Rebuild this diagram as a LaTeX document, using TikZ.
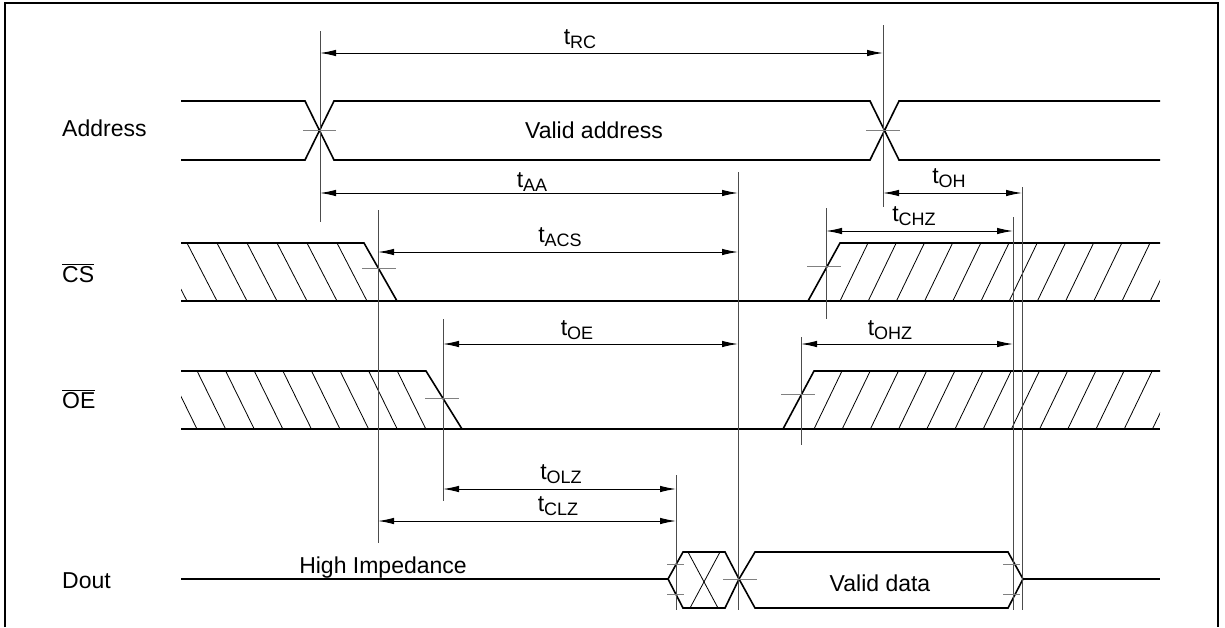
\documentclass[tikz,border=0pt]{standalone}
\usepackage{fontspec}
\setmainfont{Liberation Sans}
\usetikzlibrary{arrows.meta}
\newcommand\tsub[1]{t\raisebox{-4pt}{\fontsize{18}{18}\selectfont #1}}
\tikzset{
  sig/.style={line width=1.6pt,line join=miter},
  refl/.style={line width=1pt,black!70},
  tickl/.style={line width=1pt,black!50},
  dim/.style={line width=1pt,{Latex[length=16pt,width=6.5pt]}-{Latex[length=16pt,width=6.5pt]}},
  hatchl/.style={line width=0.8pt},
  lbl/.style={font=\fontsize{23}{27}\selectfont,inner sep=0pt},
  tlbl/.style={font=\fontsize{23}{27}\selectfont,inner sep=0pt,anchor=south},
}
\begin{document}
\begin{tikzpicture}[x=1pt,y=-1pt]
\useasboundingbox (0,0) rectangle (1225,627);
\draw[line width=1.5pt] (5,627) -- (5,3) -- (1218,3) -- (1218,627);

% signal names
\node[lbl,anchor=base west] (addr) at (62,136) {Address};
\node[lbl,anchor=base west] (cs) at (62,282) {$\overline{\mbox{CS}}$};
\node[lbl,anchor=base west] (oe) at (62,408) {$\overline{\mbox{OE}}$};
\node[lbl,anchor=base west] (dout) at (62,588) {Dout};

% address
\draw[sig] (181,101) -- (305,101) -- (334,160) -- (870,160) -- (899,101) -- (1160,101);
\draw[sig] (181,160) -- (305,160) -- (334,101) -- (870,101) -- (899,160) -- (1160,160);
\node[lbl] (vaddr) at (594,130) {Valid address};

% CS
\draw[sig] (181,243) -- (364,243) -- (397,301) -- (808,301) -- (840,243) -- (1160,243);
\draw[sig] (181,301) -- (1160,301);
\begin{scope}
\clip (181,243) -- (364,243) -- (397,301) -- (181,301) -- cycle;
\foreach \x in {157,187,...,367} \draw[hatchl] (\x,243) -- ++(30,58);
\end{scope}
\begin{scope}
\clip (840,243) -- (1160,243) -- (1160,301) -- (808,301) -- cycle;
\foreach \i in {0,...,11} \draw[hatchl] (840+28.2*\i,301) -- ++(28,-58);
\end{scope}

% OE
\draw[sig] (181,371) -- (426,371) -- (462,429) -- (783,429) -- (814,371) -- (1160,371);
\draw[sig] (181,429) -- (1160,429);
\begin{scope}
\clip (181,371) -- (426,371) -- (462,429) -- (181,429) -- cycle;
\foreach \i in {0,...,8} \draw[hatchl] (168.5+28.6*\i,371) -- ++(28.5,58);
\end{scope}
\begin{scope}
\clip (814,371) -- (1160,371) -- (1160,429) -- (783,429) -- cycle;
\foreach \i in {0,...,12} \draw[hatchl] (814+28.2*\i,429) -- ++(28,-58);
\end{scope}

% Dout
\draw[sig] (181,579) -- (668,579);
\draw[sig] (668,579) -- (683,552) -- (725,552) -- (739,579) -- (725,608) -- (683,608) -- cycle;
\draw[hatchl] (688,552) -- (718,608);
\draw[hatchl] (720,552) -- (690,608);
\draw[sig] (739,579) -- (755,552) -- (1008,552) -- (1023,579) -- (1008,608) -- (755,608) -- cycle;
\draw[sig] (1023,579) -- (1160,579);
\node[lbl,anchor=base] (hiz) at (383,573) {High Impedance};
\node[lbl] (vdata) at (880,583) {Valid data};

% reference lines
\draw[refl] (320,31) -- (320,222);
\draw[refl] (883,25) -- (883,207);
\draw[refl] (738,172) -- (738,610);
\draw[refl] (1022,187) -- (1022,610);
\draw[refl] (1013,217) -- (1013,610);
\draw[refl] (826,208) -- (826,319);
\draw[refl] (378,210) -- (378,543);
\draw[refl] (443,319) -- (443,501);
\draw[refl] (801,337) -- (801,445);
\draw[refl] (676,475) -- (676,610);

% ticks on edges
\draw[tickl] (303,130) -- (336,130);
\draw[tickl] (866,130) -- (900,130);
\draw[tickl] (362,268) -- (396,268);
\draw[tickl] (807,266) -- (841,266);
\draw[tickl] (425,398) -- (459,398);
\draw[tickl] (781,394) -- (815,394);
\draw[tickl] (667,564) -- (684,564);
\draw[tickl] (667,594) -- (684,594);
\draw[tickl] (723,579) -- (757,579);
\draw[tickl] (1003,564) -- (1020,564);
\draw[tickl] (1003,594) -- (1020,594);

% timing arrows
\foreach \n/\xa/\xb/\y/\lx/\ly in {RC/320/883/53/580/49, AA/320/738/193/532/192,
    OH/883/1022/193/949/188, CHZ/826/1013/231/914/226, ACS/378/738/252/560/247,
    OE/443/738/344/577/340, OHZ/801/1013/344/890/340, OLZ/443/676/489/561/484,
    CLZ/378/676/521/558/516}{
  \coordinate (\n a) at (\xa,\y);
  \coordinate (\n b) at (\xb,\y);
  \draw[dim] (\n a) -- (\n b);
  \node[tlbl] (\n l) at (\lx,\ly) {\tsub{\n}};
}
\end{tikzpicture}
\end{document}
